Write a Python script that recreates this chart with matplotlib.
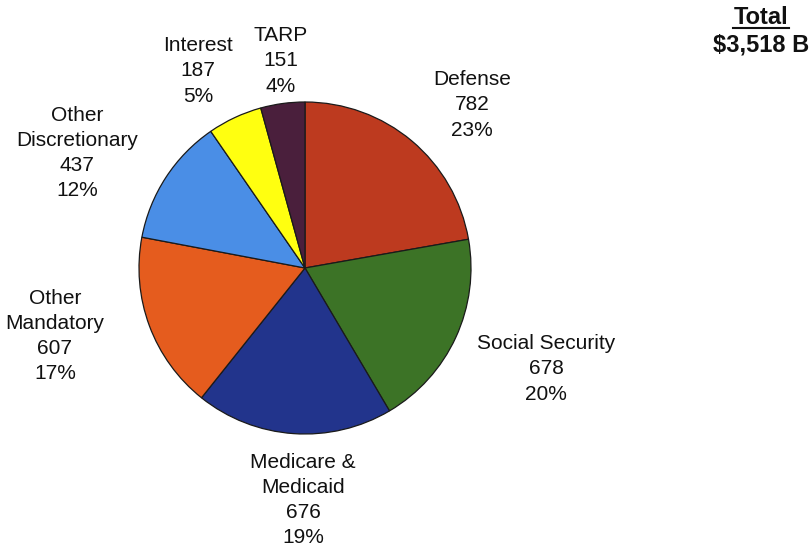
import matplotlib.pyplot as plt

plt.rcParams['font.family'] = ['Liberation Sans', 'DejaVu Sans']

# Data: spending by category, $ billions
categories = ['Defense', 'Social Security', 'Medicare &\nMedicaid', 'Other\nMandatory',
              'Other\nDiscretionary', 'Interest', 'TARP']
values = [782, 678, 676, 607, 437, 187, 151]
percents = ['23%', '20%', '19%', '17%', '12%', '5%', '4%']
colors = ['#BD3A1F', '#3C7326', '#22348C', '#E55C1E', '#4A8EE6', '#FFFF10', '#4A1F3C']

# label anchor points (pixels from top-left), layout only
label_pos = [(472, 105), (546, 369), (303, 500), (55, 336), (77, 153), (198, 71), (281, 61)]

W, H = 809, 548
fig = plt.figure(figsize=(W / 100, H / 100), dpi=100)
ax = fig.add_axes([0, 0, 1, 1])
ax.set_xlim(0, W)
ax.set_ylim(0, H)
ax.set_aspect('equal')
ax.axis('off')

ax.pie(values, colors=colors, startangle=90, counterclock=False,
       center=(305, H - 268), radius=166,
       wedgeprops={'edgecolor': '#1a1a1a', 'linewidth': 0.9})
ax.set_xlim(0, W)
ax.set_ylim(0, H)

for cat, val, pct, (x, y) in zip(categories, values, percents, label_pos):
    ax.text(x, H - y, f'{cat}\n{val}\n{pct}', ha='center', va='center',
            fontsize=15, linespacing=1.42, color='#111111')

# total box
ax.text(761, H - 18, 'Total', ha='center', va='center', fontsize=17,
        fontweight='bold', color='#111111')
ax.plot([733, 789], [H - 28, H - 28], color='#111111', lw=1.5)
ax.text(761, H - 45, '$3,518 B', ha='center', va='center', fontsize=17,
        fontweight='bold', color='#111111')

fig.savefig('out.png', dpi=100)
